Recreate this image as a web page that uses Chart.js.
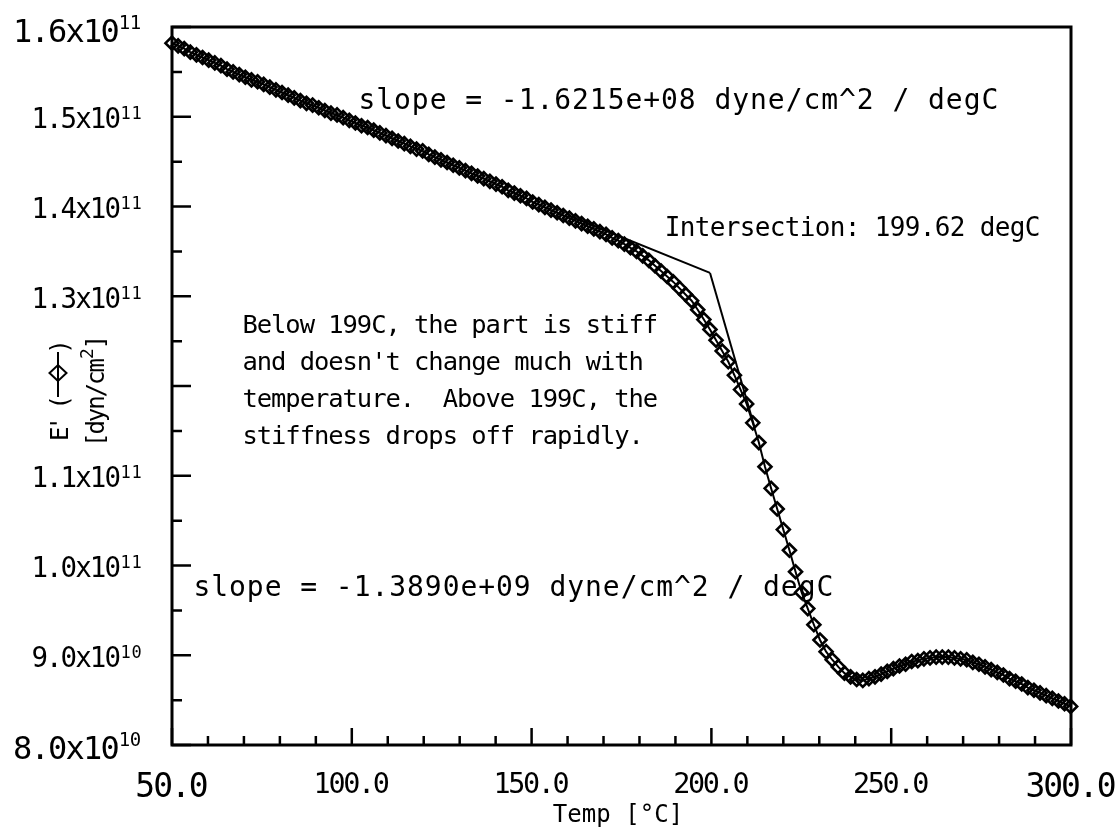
<!DOCTYPE html>
<html>
<head>
<meta charset="utf-8">
<title>E' vs Temp</title>
<script src="https://cdn.jsdelivr.net/npm/chart.js@4"></script>
<style>
  html, body { margin: 0; padding: 0; background: #fff; }
  #chartBox { width: 1119px; height: 832px; }
</style>
</head>
<body>
<div id="chartBox"><canvas id="modulusChart" width="1119" height="832"></canvas></div>
<script>
// temperature sweep [degC]
const temps = [
  50.0, 51.7, 53.4, 55.1, 56.8, 58.5, 60.2, 61.9, 63.6, 65.3,
  67.0, 68.7, 70.4, 72.1, 73.8, 75.5, 77.2, 78.9, 80.6, 82.3,
  84.0, 85.7, 87.4, 89.1, 90.8, 92.5, 94.2, 95.9, 97.6, 99.3,
  101.0, 102.7, 104.4, 106.1, 107.8, 109.5, 111.2, 112.9, 114.6, 116.3,
  118.0, 119.7, 121.4, 123.1, 124.8, 126.5, 128.2, 129.9, 131.6, 133.3,
  135.0, 136.7, 138.4, 140.1, 141.8, 143.5, 145.2, 146.9, 148.6, 150.3,
  152.0, 153.7, 155.4, 157.1, 158.8, 160.5, 162.2, 163.9, 165.6, 167.3,
  169.0, 170.7, 172.4, 174.1, 175.8, 177.5, 179.2, 180.9, 182.6, 184.3,
  186.0, 187.7, 189.4, 191.1, 192.8, 194.5, 196.2, 197.9, 199.6, 201.3,
  203.0, 204.7, 206.4, 208.1, 209.8, 211.5, 213.2, 214.9, 216.6, 218.3,
  220.0, 221.7, 223.4, 225.1, 226.8, 228.5, 230.2, 231.9, 233.6, 235.3,
  237.0, 238.7, 240.4, 242.1, 243.8, 245.5, 247.2, 248.9, 250.6, 252.3,
  254.0, 255.7, 257.4, 259.1, 260.8, 262.5, 264.2, 265.9, 267.6, 269.3,
  271.0, 272.7, 274.4, 276.1, 277.8, 279.5, 281.2, 282.9, 284.6, 286.3,
  288.0, 289.7, 291.4, 293.1, 294.8, 296.5, 298.2, 299.9
];

// storage modulus E' in units of 1e10 dyn/cm^2
const modulus = [
  15.82, 15.79, 15.76, 15.72, 15.69, 15.66, 15.63, 15.60, 15.57, 15.53,
  15.50, 15.47, 15.44, 15.41, 15.39, 15.36, 15.33, 15.30, 15.27, 15.24,
  15.21, 15.18, 15.15, 15.13, 15.10, 15.07, 15.04, 15.02, 14.99, 14.96,
  14.93, 14.90, 14.88, 14.85, 14.82, 14.79, 14.76, 14.73, 14.70, 14.67,
  14.64, 14.62, 14.58, 14.55, 14.52, 14.49, 14.46, 14.43, 14.40, 14.37,
  14.34, 14.31, 14.28, 14.25, 14.22, 14.18, 14.15, 14.12, 14.09, 14.05,
  14.02, 13.99, 13.96, 13.93, 13.90, 13.87, 13.84, 13.81, 13.78, 13.75,
  13.72, 13.69, 13.65, 13.62, 13.58, 13.54, 13.50, 13.45, 13.40, 13.34,
  13.28, 13.22, 13.16, 13.09, 13.02, 12.95, 12.85, 12.74, 12.63, 12.51,
  12.39, 12.27, 12.12, 11.96, 11.80, 11.59, 11.37, 11.10, 10.86, 10.63,
  10.40, 10.17, 9.93, 9.70, 9.52, 9.34, 9.17, 9.04, 8.95, 8.87,
  8.80, 8.76, 8.73, 8.72, 8.74, 8.76, 8.79, 8.82, 8.85, 8.88,
  8.90, 8.93, 8.94, 8.96, 8.97, 8.98, 8.98, 8.98, 8.97, 8.96,
  8.95, 8.92, 8.90, 8.87, 8.84, 8.81, 8.78, 8.74, 8.71, 8.68,
  8.64, 8.61, 8.58, 8.55, 8.52, 8.49, 8.46, 8.43
];

// tangent-line construction (slopes in 1e10 dyn/cm^2 per degC)
const onsetTemp = 199.62;
const onsetModulus = 13.26;
const glassySlope = -0.016215;   // -1.6215e+08
const dropSlope = -0.1389;       // -1.3890e+09
const glassyFrom = 160;
const dropTo = 212;

// axis ticks
const xTicks = [50, 100, 150, 200, 250, 300];
const xTickLabels = ["50.0", "100.0", "150.0", "200.0", "250.0", "300.0"];
const yTicks = [8, 9, 10, 11, 12, 13, 14, 15, 16];
const yTickMantissa = ["8.0", "9.0", "1.0", "1.1", "", "1.3", "1.4", "1.5", "1.6"];
const yTickPower = ["10", "10", "11", "11", "", "11", "11", "11", "11"];

const noteLines = [
  "Below 199C, the part is stiff",
  "and doesn't change much with",
  "temperature.  Above 199C, the",
  "stiffness drops off rapidly."
];

const FONT = '"DejaVu Sans Mono", "Liberation Mono", monospace';

// draw a string one character per fixed-width cell
function monoText(ctx, str, x, y, size, pitch, align) {
  ctx.font = size + "px " + FONT;
  ctx.textAlign = "center";
  ctx.textBaseline = "alphabetic";
  const width = str.length * pitch;
  let left = x;
  if (align === "right") left = x - width;
  else if (align === "center") left = x - width / 2;
  for (let i = 0; i < str.length; i++) {
    ctx.fillText(str[i], left + pitch * (i + 0.5), y);
  }
  return left + width;
}

function diamond(ctx, cx, cy, rx, ry) {
  ctx.beginPath();
  ctx.moveTo(cx - rx, cy);
  ctx.lineTo(cx, cy - ry);
  ctx.lineTo(cx + rx, cy);
  ctx.lineTo(cx, cy + ry);
  ctx.closePath();
  ctx.stroke();
}

const framePlugin = {
  id: "framePlugin",
  beforeDatasetsDraw(chart) {
    const { ctx, chartArea: a, scales } = chart;
    ctx.save();
    ctx.strokeStyle = "#000";
    ctx.lineWidth = 3;
    ctx.strokeRect(a.left, a.top, a.right - a.left, a.bottom - a.top);

    ctx.lineWidth = 2.5;
    ctx.beginPath();
    // y ticks point inward from the left axis
    for (let v = 8; v <= 16; v += 0.5) {
      const y = scales.y.getPixelForValue(v);
      const len = Number.isInteger(v) ? 19 : 10;
      ctx.moveTo(a.left, y);
      ctx.lineTo(a.left + len, y);
    }
    // x ticks point up from the bottom axis
    for (let t = 50; t <= 300; t += 10) {
      const x = scales.x.getPixelForValue(t);
      const len = t % 50 === 0 ? 17 : 9;
      ctx.moveTo(x, a.bottom);
      ctx.lineTo(x, a.bottom - len);
    }
    ctx.stroke();
    ctx.restore();
  },
  afterDraw(chart) {
    const { ctx, scales } = chart;
    ctx.save();
    ctx.fillStyle = "#000";
    ctx.strokeStyle = "#000";

    // y tick labels, "m.mx10" plus a superscript power; end labels are larger
    yTicks.forEach((v, i) => {
      if (!yTickMantissa[i]) return;
      const y = scales.y.getPixelForValue(v);
      const first = i === 0, last = i === yTicks.length - 1;
      const big = first || last;
      const base = y + (first ? 14 : last ? 15 : 11.5);
      const right = big ? 119 : 120;
      const end = monoText(ctx, yTickMantissa[i] + "x10", right, base, big ? 32 : 27.5, big ? 17.5 : 14.6, "right");
      monoText(ctx, yTickPower[i], end, base - (big ? 13 : 9), big ? 19 : 17, 11, "left");
    });

    // x tick labels
    xTicks.forEach((t, i) => {
      const x = scales.x.getPixelForValue(t);
      const big = i === 0 || i === xTicks.length - 1;
      monoText(ctx, xTickLabels[i], x, big ? 797 : 793, big ? 33 : 28.5, big ? 17.8 : 14.8, "center");
    });

    // axis titles
    monoText(ctx, "Temp [\u00B0C]", 618, 822, 24, 14.5, "center");

    ctx.save();
    ctx.translate(68, 389);
    ctx.rotate(-Math.PI / 2);
    monoText(ctx, "E' (", -50, 0, 24, 10.5, "left");
    ctx.lineWidth = 2;
    ctx.beginPath();
    ctx.moveTo(-8, -10);
    ctx.lineTo(37, -10);
    ctx.stroke();
    diamond(ctx, 16, -10, 8, 8.5);
    monoText(ctx, ")", 36, 0, 24, 13, "left");
    ctx.restore();

    ctx.save();
    ctx.translate(104, 388);
    ctx.rotate(-Math.PI / 2);
    let x = monoText(ctx, "[dyn/cm", -58, 0, 24, 12.4, "left");
    x = monoText(ctx, "2", x, -11, 18, 11, "left");
    monoText(ctx, "]", x, 0, 24, 12.4, "left");
    ctx.restore();

    // annotations
    monoText(ctx, "slope = -1.6215e+08 dyne/cm^2 / degC", 358, 109, 28, 17.8, "left");
    monoText(ctx, "Intersection: " + onsetTemp.toFixed(2) + " degC", 665, 236, 26, 15.0, "left");
    noteLines.forEach((line, i) => {
      monoText(ctx, line, 243, 333 + i * 37, 25.5, 14.3, "left");
    });
    monoText(ctx, "slope = -1.3890e+09 dyne/cm^2 / degC", 193, 596, 28, 17.8, "left");

    ctx.restore();
  }
};

const fitLine = (from, to, slope) => [
  { x: from, y: onsetModulus + slope * (from - onsetTemp) },
  { x: to, y: onsetModulus + slope * (to - onsetTemp) }
];

const ctx = document.getElementById("modulusChart").getContext("2d");
new Chart(ctx, {
  type: "line",
  data: {
    datasets: [
      {
        label: "E'",
        data: temps.map((t, i) => ({ x: t, y: modulus[i] })),
        borderColor: "#000",
        borderWidth: 2,
        pointStyle: "rectRot",
        pointRadius: 6.5,
        pointBorderWidth: 2.6,
        pointBorderColor: "#000",
        pointBackgroundColor: "rgba(0,0,0,0)",
        tension: 0,
        clip: false
      },
      {
        label: "glassy fit",
        data: fitLine(glassyFrom, onsetTemp, glassySlope),
        borderColor: "#000",
        borderWidth: 2,
        pointRadius: 0,
        tension: 0
      },
      {
        label: "drop fit",
        data: fitLine(onsetTemp, dropTo, dropSlope),
        borderColor: "#000",
        borderWidth: 2,
        pointRadius: 0,
        tension: 0
      }
    ]
  },
  options: {
    responsive: false,
    animation: false,
    devicePixelRatio: 1,
    layout: { padding: { left: 172, right: 48, top: 27, bottom: 87 } },
    plugins: {
      legend: { display: false },
      tooltip: { enabled: false },
      title: { display: false }
    },
    scales: {
      x: { type: "linear", display: false, min: 50, max: 300 },
      y: { type: "linear", display: false, min: 8, max: 16 }
    }
  },
  plugins: [framePlugin]
});
</script>
</body>
</html>
